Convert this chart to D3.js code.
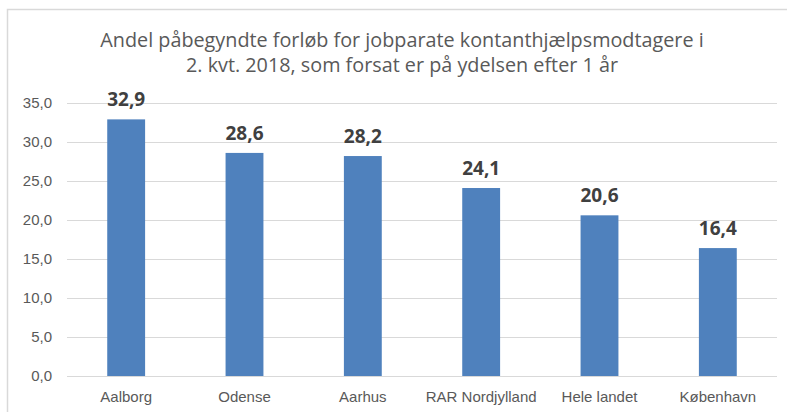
<!DOCTYPE html>
<html lang="da">
<head>
<meta charset="UTF-8">
<title>Andel påbegyndte forløb</title>
<script src="https://d3js.org/d3.v7.min.js"></script>
<style>
body { margin: 0; background: #fff; }
svg { display: block; font-family: "Open Sans", sans-serif; }
.grid line { stroke: #d9d9d9; stroke-width: 1; }
.axis text { fill: #595959; font-size: 15px; }
.title { fill: #595959; font-size: 19.8px; }
.value { fill: #404040; font-size: 19px; font-weight: bold; }
</style>
</head>
<body>
<svg id="chart" width="787" height="412"></svg>
<script>

// data
const categories = ["Aalborg", "Odense", "Aarhus", "RAR Nordjylland", "Hele landet", "København"];
const values = [32.9, 28.6, 28.2, 24.1, 20.6, 16.4];
const yTicks = [0, 5, 10, 15, 20, 25, 30, 35];
const titleLines = [
    "Andel påbegyndte forløb for jobparate kontanthjælpsmodtagere i",
    "2. kvt. 2018, som forsat er på ydelsen efter 1 år"
];

const width = 787;
const height = 412;
const margin = { top: 103, right: 10, bottom: 36, left: 67 };

const svg = d3.select("#chart");

// chart frame (runs off the right and bottom edge)
svg.append("rect")
    .attr("x", 7.5)
    .attr("y", 9.5)
    .attr("width", 800)
    .attr("height", 420)
    .attr("fill", "#fff")
    .attr("stroke", "#d9d9d9")
    .attr("stroke-width", 1.5);

const x = d3.scaleBand()
    .domain(categories)
    .range([margin.left, width - margin.right])
    .paddingInner(0.68)
    .paddingOuter(0.34);

const y = d3.scaleLinear()
    .domain([0, 35])
    .range([height - margin.bottom, margin.top]);

// grid lines
svg.append("g")
    .attr("class", "grid")
    .selectAll("line")
    .data(yTicks)
    .join("line")
    .attr("x1", margin.left)
    .attr("x2", width - margin.right)
    .attr("y1", d => Math.round(y(d)) + 0.5)
    .attr("y2", d => Math.round(y(d)) + 0.5);

// y axis labels
const yAxis = svg.append("g")
    .attr("class", "axis")
    .attr("transform", `translate(${margin.left - 15},0)`)
    .call(d3.axisLeft(y).tickValues(yTicks).tickSize(0).tickPadding(0)
        .tickFormat(d => d3.format(".1f")(d).replace(".", ",")));
yAxis.select(".domain").remove();

// x axis labels
const xAxis = svg.append("g")
    .attr("class", "axis")
    .attr("transform", `translate(0,${height - margin.bottom})`)
    .call(d3.axisBottom(x).tickSize(0).tickPadding(15));
xAxis.select(".domain").remove();

// bars
svg.append("g")
    .selectAll("rect")
    .data(values)
    .join("rect")
    .attr("x", (d, i) => x(categories[i]))
    .attr("y", d => y(d))
    .attr("width", x.bandwidth())
    .attr("height", d => y(0) - y(d))
    .attr("fill", "#4f81bd");

// value labels
svg.append("g")
    .selectAll("text")
    .data(values)
    .join("text")
    .attr("class", "value")
    .attr("x", (d, i) => x(categories[i]) + x.bandwidth() / 2)
    .attr("y", d => y(d) - 13)
    .attr("text-anchor", "middle")
    .text(d => d3.format(".1f")(d).replace(".", ","));

// title
svg.append("g")
    .selectAll("text")
    .data(titleLines)
    .join("text")
    .attr("class", "title")
    .attr("x", 402)
    .attr("y", (d, i) => 47 + i * 25)
    .attr("text-anchor", "middle")
    .text(d => d);

</script>
</body>
</html>
